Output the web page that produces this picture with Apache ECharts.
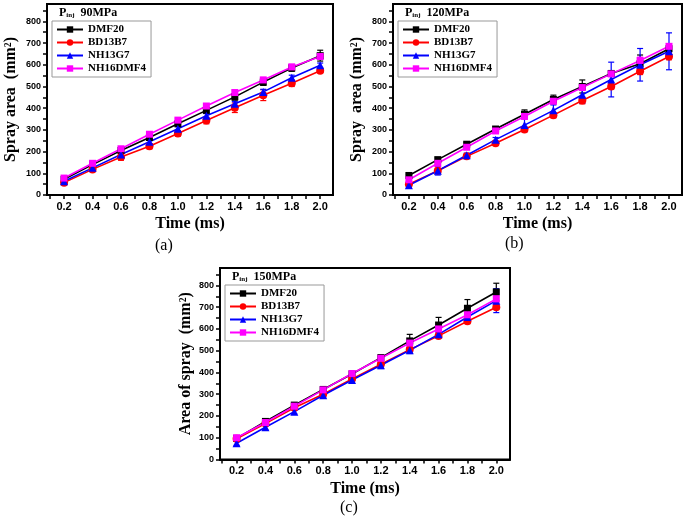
<!DOCTYPE html>
<html><head><meta charset="utf-8">
<script src="https://cdn.jsdelivr.net/npm/echarts@6/dist/echarts.min.js"></script>
<style>html,body{margin:0;padding:0;background:#fff}#c{width:685px;height:519px}</style>
</head><body><div id="c"></div>
<script>
const times = [0.2,0.4,0.6,0.8,1.0,1.2,1.4,1.6,1.8,2.0];
const xTicks = [0.2,0.4,0.6,0.8,1.0,1.2,1.4,1.6,1.8,2.0];
const xMinorTicks = [0.1,0.3,0.5,0.7,0.9,1.1,1.3,1.5,1.7,1.9];
const yTicks = [0,100,200,300,400,500,600,700,800];
const yMinorTicks = [50,150,250,350,450,550,650,750,850];
const seriesNames = ['DMF20','BD13B7','NH13G7','NH16DMF4'];
const pressures = ['90MPa','120MPa','150MPa'];
const panelLabels = ['(a)','(b)','(c)'];
const yTitles = ['Spray area  (mm²)','Spray  area (mm²)','Area of spray  (mm²)'];
const xTitle = 'Time (ms)';

// Panel (a) 90 MPa
const a_DMF20    = [72,140,205,265,328,390,452,520,585,642];
const a_BD13B7   = [57,118,175,225,283,343,402,460,515,572];
const a_NH13G7   = [63,125,187,245,305,365,420,475,540,598];
const a_NH16DMF4 = [78,146,213,280,345,410,472,530,590,638];
const a_DMF20_err    = [5,8,10,10,12,12,15,15,15,25];
const a_BD13B7_err   = [8,10,15,12,12,15,22,25,15,8];
const a_NH13G7_err   = [5,8,10,8,10,10,10,12,12,10];
const a_NH16DMF4_err = [5,5,8,8,8,8,12,12,12,10];

// Panel (b) 120 MPa
const b_DMF20    = [90,163,234,304,372,440,500,560,605,674];
const b_BD13B7   = [50,112,178,238,302,368,435,500,570,638];
const b_NH13G7   = [45,112,183,255,322,390,462,532,600,662];
const b_NH16DMF4 = [70,146,220,295,362,432,495,558,620,685];
const b_DMF20_err    = [6,8,8,8,20,20,30,12,40,15];
const b_BD13B7_err   = [8,12,10,8,10,12,15,12,15,15];
const b_NH13G7_err   = [10,20,10,10,30,25,40,80,75,85];
const b_NH16DMF4_err = [8,8,8,8,10,10,12,12,15,10];

// Panel (c) 150 MPa
const c_DMF20    = [97,175,250,322,393,468,545,618,695,770];
const c_BD13B7   = [95,165,238,300,370,438,505,568,635,700];
const c_NH13G7   = [75,148,220,295,365,433,502,575,655,730];
const c_NH16DMF4 = [100,170,245,320,395,465,535,600,665,738];
const c_DMF20_err    = [5,8,8,8,10,12,30,35,40,40];
const c_BD13B7_err   = [5,8,8,8,8,10,10,10,10,10];
const c_NH13G7_err   = [10,12,10,10,10,15,15,12,12,55];
const c_NH16DMF4_err = [5,8,8,8,8,10,10,10,12,15];

const panels = [
  [a_DMF20,a_BD13B7,a_NH13G7,a_NH16DMF4],
  [b_DMF20,b_BD13B7,b_NH13G7,b_NH16DMF4],
  [c_DMF20,c_BD13B7,c_NH13G7,c_NH16DMF4]
];
const panelErrs = [
  [a_DMF20_err,a_BD13B7_err,a_NH13G7_err,a_NH16DMF4_err],
  [b_DMF20_err,b_BD13B7_err,b_NH13G7_err,b_NH16DMF4_err],
  [c_DMF20_err,c_BD13B7_err,c_NH13G7_err,c_NH16DMF4_err]
];

const colors = ['#000000','#ff0000','#0000ff','#ff00ff'];
const symbols = ['rect','circle','triangle','rect'];
const symbolSizes = [7,8,8,7];

const grids = [
  {left:47, top:4, width:286, height:191},
  {left:393, top:4, width:289, height:191},
  {left:220, top:268, width:290, height:191.5}
];
const xRanges = [[0.08,2.09],[0.09,2.09],[0.085,2.095]];

const serif = '"Liberation Serif","Times New Roman",serif';
const sans = '"Liberation Sans",Arial,sans-serif';

function errRender(params, api){
  const x = api.value(0), y = api.value(1), e = api.value(2);
  const top = api.coord([x, y+e]), bot = api.coord([x, y-e]);
  const w = 3;
  const style = {stroke: api.visual('color'), lineWidth: 1.2};
  return {type:'group', children:[
    {type:'line', shape:{x1:top[0],y1:top[1],x2:bot[0],y2:bot[1]}, style:style},
    {type:'line', shape:{x1:top[0]-w,y1:top[1],x2:top[0]+w,y2:top[1]}, style:style},
    {type:'line', shape:{x1:bot[0]-w,y1:bot[1],x2:bot[0]+w,y2:bot[1]}, style:style}
  ]};
}

const option = {
  animation:false,
  backgroundColor:'#fff',
  grid: grids.map(g => Object.assign({show:true, borderColor:'#000', borderWidth:2, backgroundColor:'transparent'}, g)),
  xAxis: [], yAxis: [], series: [], title: [], legend: [], graphic: []
};

for (let p = 0; p < 3; p++) {
  option.xAxis.push({
    type:'value', gridIndex:p, min:xRanges[p][0], max:xRanges[p][1],
    splitLine:{show:false},
    axisLine:{show:true, onZero:false, lineStyle:{color:'#000', width:2}},
    axisTick:{show:true, inside:false, length:4, customValues: xTicks.concat(xMinorTicks), lineStyle:{color:'#000', width:1.5}},
    axisLabel:{customValues: xTicks, formatter: v => v.toFixed(1), color:'#000', fontFamily:sans, fontWeight:'bold', fontSize:11, margin:6},
    name:xTitle, nameLocation:'middle', nameGap:21,
    nameTextStyle:{fontFamily:serif, fontWeight:'bold', fontSize:16, color:'#000'}
  });
  option.yAxis.push({
    type:'value', gridIndex:p, min:0, max:880,
    splitLine:{show:false},
    axisLine:{show:true, onZero:false, lineStyle:{color:'#000', width:2}},
    axisTick:{show:true, inside:false, length:4, customValues: yTicks.concat(yMinorTicks), lineStyle:{color:'#000', width:1.5}},
    axisLabel:{customValues: yTicks, color:'#000', fontFamily:sans, fontWeight:'bold', fontSize:9, margin:6},
    name:yTitles[p], nameLocation:'middle', nameGap:(p===2?26:28),
    nameTextStyle:{fontFamily:serif, fontWeight:'bold', fontSize:16, color:'#000'}
  });
  for (let s = 0; s < 4; s++) {
    option.series.push({
      type:'custom', name:seriesNames[s]+' err '+p, xAxisIndex:p, yAxisIndex:p,
      renderItem: errRender, itemStyle:{color:colors[s]}, z:2,
      data: times.map((t,i) => [t, panels[p][s][i], panelErrs[p][s][i]])
    });
  }
  for (let s = 0; s < 4; s++) {
    option.series.push({
      type:'line', name:seriesNames[s], xAxisIndex:p, yAxisIndex:p,
      symbol:symbols[s], symbolSize:symbolSizes[s],
      itemStyle:{color:colors[s]}, lineStyle:{color:colors[s], width:1.6}, z:3,
      data: times.map((t,i) => [t, panels[p][s][i]])
    });
  }
  const g = grids[p];
  option.title.push({
    text:'{p|P}{s|inj}{v|  '+pressures[p]+'}', left:g.left+7, top:g.top-4,
    textStyle:{rich:{
      p:{fontFamily:serif, fontWeight:'bold', fontSize:12, color:'#000', verticalAlign:'bottom', lineHeight:14},
      s:{fontFamily:serif, fontWeight:'bold', fontSize:7, color:'#000', verticalAlign:'bottom', lineHeight:10},
      v:{fontFamily:serif, fontWeight:'bold', fontSize:12, color:'#000', verticalAlign:'bottom', lineHeight:14}
    }}
  });
  option.legend.push({
    data: seriesNames, orient:'vertical', left:g.left+5, top:g.top+17,
    itemWidth:26, itemHeight:8, itemGap:2, padding:[3,5,3,4],
    borderColor:'#999', borderWidth:1, backgroundColor:'#fff',
    textStyle:{fontFamily:serif, fontWeight:'bold', fontSize:11, color:'#000'},
    selectedMode:false
  });
}
option.graphic = [
  {type:'text', left:155, top:238, style:{text:panelLabels[0], fontFamily:serif, fontSize:16, fill:'#000'}},
  {type:'text', left:505, top:236, style:{text:panelLabels[1], fontFamily:serif, fontSize:16, fill:'#000'}},
  {type:'text', left:340, top:500, style:{text:panelLabels[2], fontFamily:serif, fontSize:16, fill:'#000'}}
];

const chart = echarts.init(document.getElementById('c'), null, {renderer:'canvas'});
chart.setOption(option);
</script>
</body></html>
